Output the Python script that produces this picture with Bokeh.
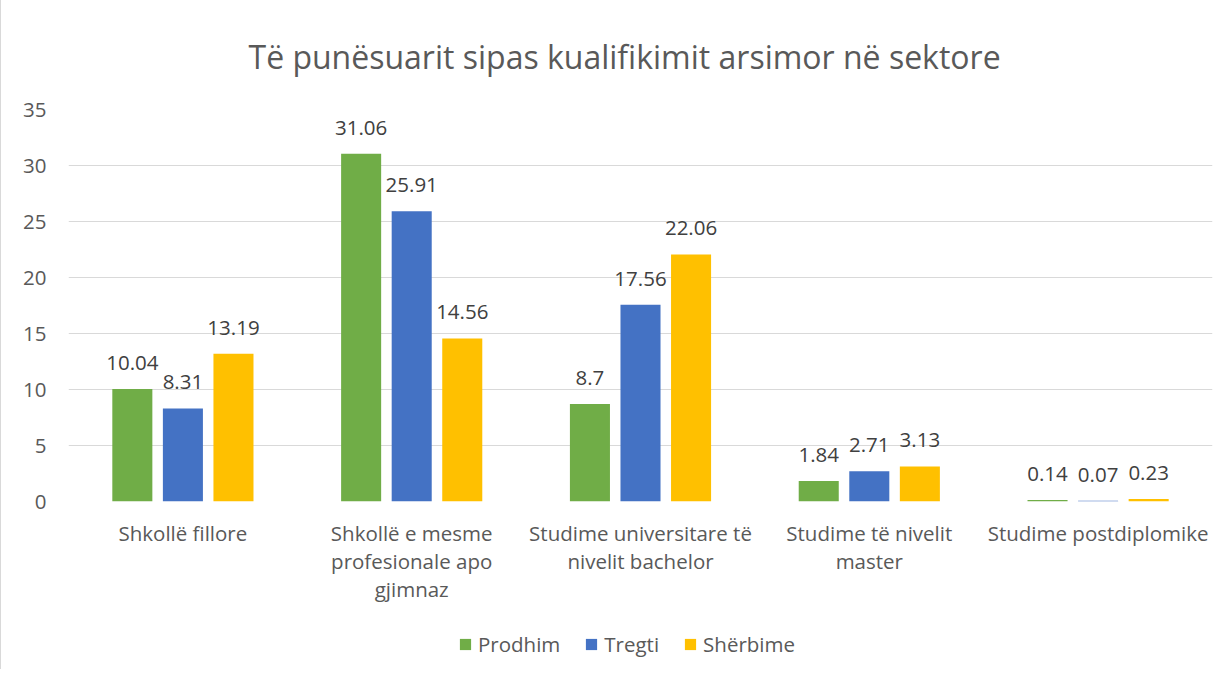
from bokeh.plotting import figure
from bokeh.layouts import column
from bokeh.models import ColumnDataSource, FactorRange, LabelSet, Legend, LegendItem, SingleIntervalTicker
from bokeh.core.properties import value
from bokeh.transform import dodge
from bokeh.embed import file_html
from bokeh.resources import INLINE

categories = ["Shkollë fillore", "Shkollë e mesme\nprofesionale apo\ngjimnaz",
              "Studime universitare të\nnivelit bachelor", "Studime të nivelit\nmaster",
              "Studime postdiplomike"]
prodhim = [10.04, 31.06, 8.7, 1.84, 0.14]
tregti = [8.31, 25.91, 17.56, 2.71, 0.07]
sherbime = [13.19, 14.56, 22.06, 3.13, 0.23]
series_names = ["Prodhim", "Tregti", "Shërbime"]
colors = ["#70AD47", "#4472C4", "#FFC000"]
title_text = "Të punësuarit sipas kualifikimit arsimor në sektore"

FONT = "Open Sans"
FS = "20.5px"
src = ColumnDataSource(dict(
    cat=categories,
    prodhim=prodhim, tregti=tregti, sherbime=sherbime,
    prodhim_t=[str(v) for v in prodhim],
    tregti_t=[str(v) for v in tregti],
    sherbime_t=[str(v) for v in sherbime],
))

p = figure(x_range=FactorRange(*categories, range_padding=0), y_range=(0, 35),
           width=1223, height=620, output_backend="svg", toolbar_location=None,
           min_border_left=67, min_border_right=12, min_border_top=109, min_border_bottom=119)
p.outline_line_color = None
p.title.text = title_text
p.title.align = "left"
p.title.offset = 180
p.title.text_font = FONT
p.title.text_font_size = "32px"
p.title.text_font_style = "normal"
p.title.text_color = "#595959"
p.title.standoff = 63

keys = ["prodhim", "tregti", "sherbime"]
offsets = [-0.221, 0.0, 0.221]
for k, off, c in zip(keys, offsets, colors):
    p.vbar(x=dodge("cat", off, range=p.x_range), top=k, width=0.175, source=src,
           fill_color=c, line_color=None)
    lbl = LabelSet(x=dodge("cat", off, range=p.x_range), y=k, text=k + "_t", source=src,
                   text_align="center", text_baseline="middle", y_offset=26,
                   text_font=value(FONT), text_font_size=FS, text_color="#404040")
    p.add_layout(lbl)

p.yaxis.ticker = SingleIntervalTicker(interval=5)
p.yaxis.axis_line_color = None
p.yaxis.major_tick_line_color = None
p.yaxis.minor_tick_line_color = None
p.yaxis.major_label_text_font = FONT
p.yaxis.major_label_text_font_size = FS
p.yaxis.major_label_text_color = "#595959"
p.yaxis.major_label_standoff = 16

p.xaxis.axis_line_color = None
p.xaxis.major_tick_line_color = None
p.xaxis.major_label_text_font = FONT
p.xaxis.major_label_text_font_size = FS
p.xaxis.major_label_text_color = "#595959"
p.xaxis.major_label_text_line_height = 1.0
p.xaxis.major_label_standoff = 11
p.xgrid.grid_line_color = None
p.ygrid.grid_line_color = "#d9d9d9"

# legend strip
lg = figure(width=1223, height=49, output_backend="svg", toolbar_location=None,
            x_range=(0, 1), y_range=(0, 1), x_axis_location=None, y_axis_location=None,
            min_border_left=0, min_border_right=0, min_border_top=0, min_border_bottom=0)
lg.grid.visible = False
lg.outline_line_color = None
dummy = []
for c in colors:
    dummy.append(lg.vbar(x=[0.5], top=[0], bottom=[0], width=0.001, fill_color=c, line_color=None))
legend = Legend(items=[LegendItem(label=n, renderers=[r]) for n, r in zip(series_names, dummy)],
                orientation="horizontal", location=(390, 11),
                label_text_font=FONT, label_text_font_size=FS, label_text_color="#595959",
                glyph_width=14, glyph_height=14, spacing=24, label_standoff=6,
                border_line_color=None, background_fill_alpha=0, padding=10)
lg.add_layout(legend, "center")

layout = column(p, lg, spacing=0)
layout.styles = {"border-left": "1px solid #d9d9d9"}
open("out.html", "w").write(file_html(layout, INLINE))
